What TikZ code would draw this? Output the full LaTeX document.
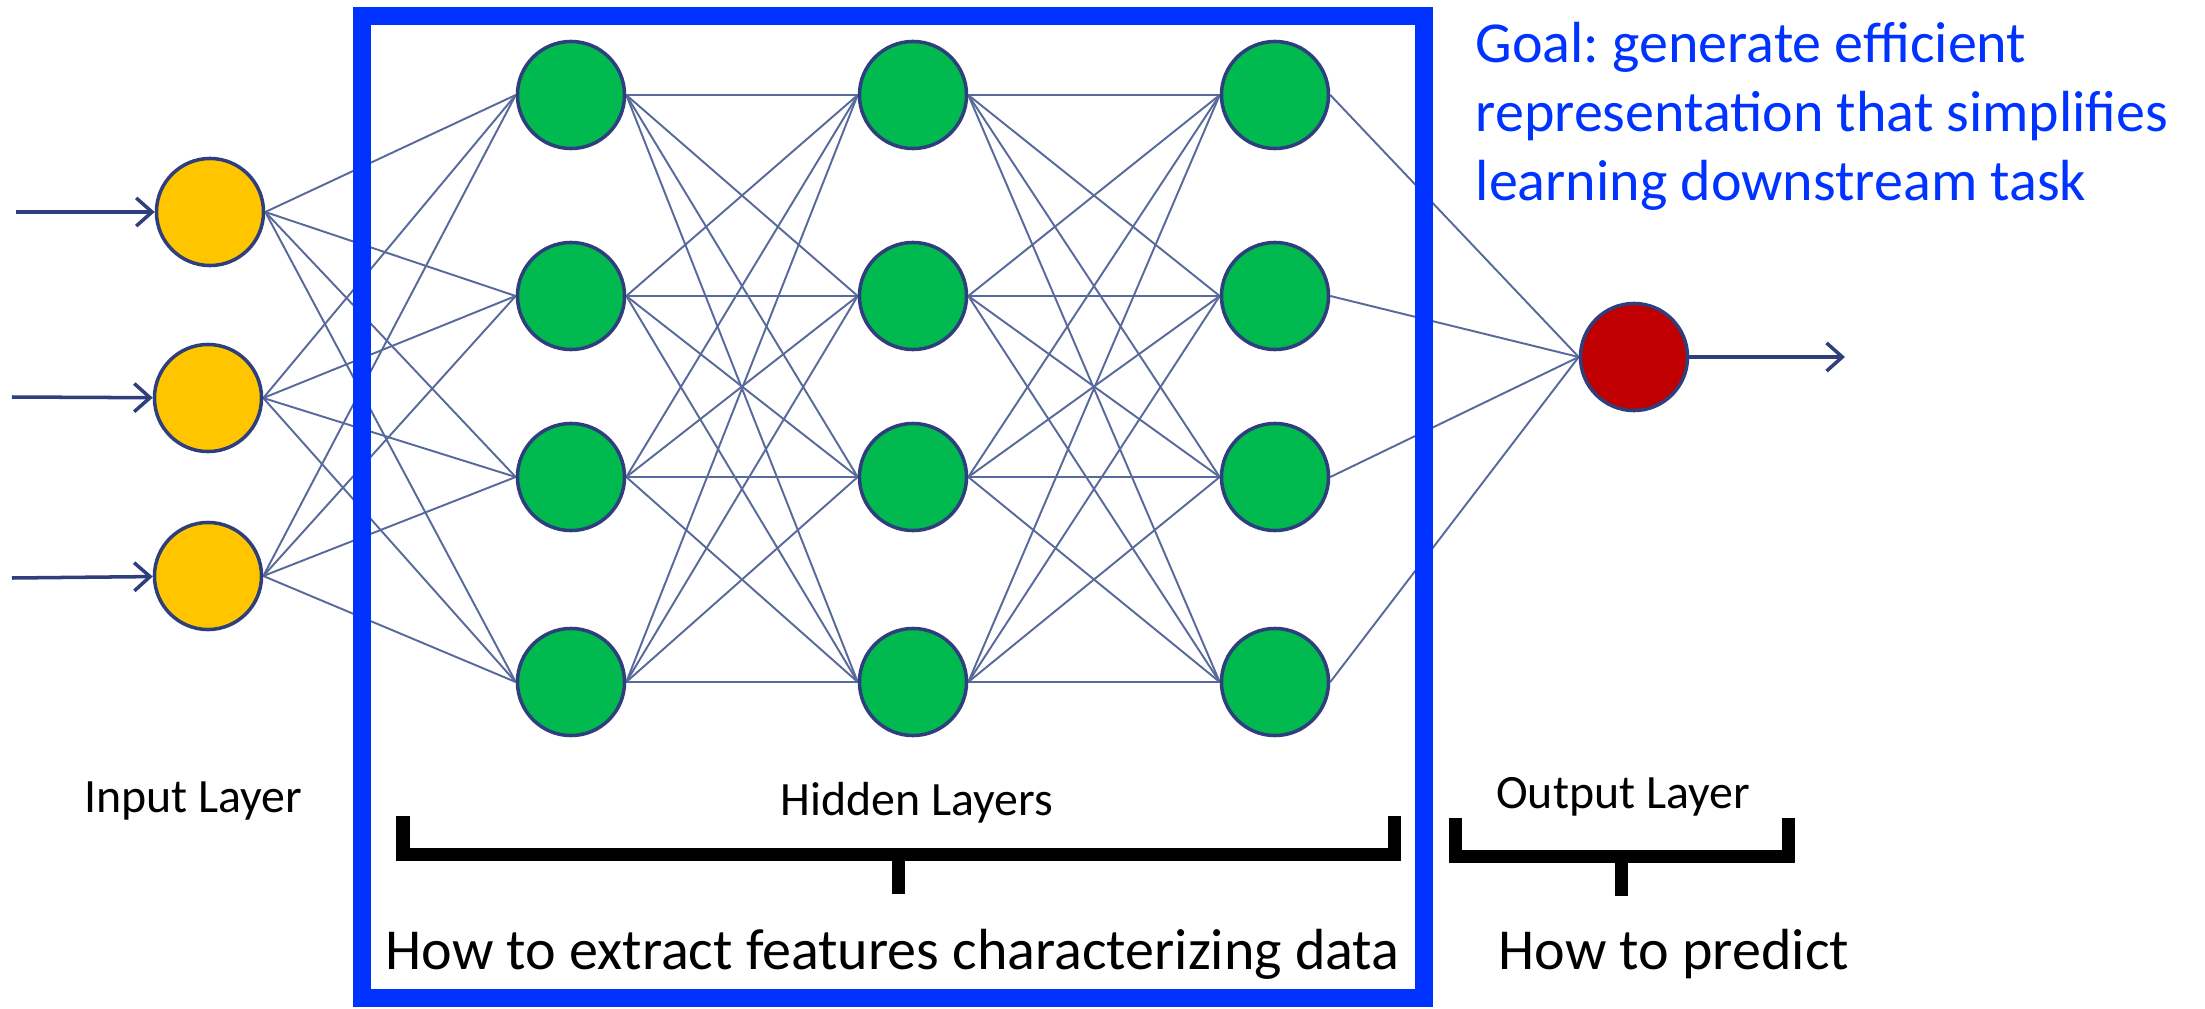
\documentclass[tikz,border=0pt]{standalone}
\usepackage{fontspec}
\setmainfont{Carlito}
\frenchspacing
\usetikzlibrary{arrows.meta,backgrounds}
\definecolor{boxblue}{RGB}{0,51,255}
\definecolor{ngreen}{RGB}{0,186,80}
\definecolor{nyellow}{RGB}{255,198,0}
\definecolor{nred}{RGB}{192,0,0}
\definecolor{nborder}{RGB}{47,62,125}
\definecolor{edgec}{RGB}{88,105,155}
\tikzset{
  neuron/.style={circle, draw=nborder, line width=1pt, minimum size=1.07cm, inner sep=0pt},
  inneuron/.style={neuron, fill=nyellow},
  hidneuron/.style={neuron, fill=ngreen},
  outneuron/.style={neuron, fill=nred},
  wire/.style={draw=edgec, line width=0.55pt},
  arr/.style={draw=nborder, line width=1pt, -{Straight Barb[length=4.5pt,width=8pt,line width=1pt]}},
  brk/.style={draw=black, line width=3.7pt, line join=miter, line cap=butt},
  lbl/.style={font=\fontsize{13.6pt}{16pt}\selectfont, inner sep=0pt, anchor=base},
  captxt/.style={font=\fontsize{16.5pt}{20pt}\selectfont, inner sep=0pt, anchor=base west},
  goaltxt/.style={captxt, text=boxblue}
}
\begin{document}
\begin{tikzpicture}[x=0.01cm, y=-0.01cm]
\useasboundingbox (0,0) rectangle (2205,1009);
% blue box
\draw[boxblue, line width=5.1pt] (362,16) rectangle (1424,998);
% input nodes
\node[inneuron] (i1) at (210,212) {};
\node[inneuron] (i2) at (208,398) {};
\node[inneuron] (i3) at (208,576) {};
% hidden layers
\foreach \x/\l in {571/a, 913/b, 1275/c} {
  \node[hidneuron] (\l1) at (\x,95) {};
  \node[hidneuron] (\l2) at (\x,296) {};
  \node[hidneuron] (\l3) at (\x,477) {};
  \node[hidneuron] (\l4) at (\x,682) {};
}
% output node
\node[outneuron] (o) at (1634,357) {};
% wires
\begin{pgfonlayer}{background}
\foreach \i in {1,2,3} \foreach \j in {1,2,3,4} \draw[wire] (i\i.east) -- (a\j.west);
\foreach \i in {1,2,3,4} \foreach \j in {1,2,3,4} {
  \draw[wire] (a\i.east) -- (b\j.west);
  \draw[wire] (b\i.east) -- (c\j.west);
}
\foreach \i in {1,2,3,4} \draw[wire] (c\i.east) -- (o.west);
\end{pgfonlayer}
% input / output arrows
\coordinate (s1) at (16,212);
\coordinate (s2) at (12,397);
\coordinate (s3) at (12,578);
\coordinate (oe) at (1845,357);
\draw[arr] (s1) -- (i1);
\draw[arr] (s2) -- (i2);
\draw[arr] (s3) -- (i3);
\draw[arr] (o) -- (oe);
% labels
\node[lbl] (lin) at (193,812) {Input Layer};
\node[lbl] (lhid) at (917,815) {Hidden Layers};
\node[lbl] (lout) at (1623,808) {Output Layer};
% brackets
\draw[brk] (403,816) -- (403,854) -- (1394,854) -- (1394,816);
\draw[brk] (898,854) -- (898,894);
\draw[brk] (1455,818) -- (1455,856) -- (1788,856) -- (1788,818);
\draw[brk] (1621,856) -- (1621,896);
% captions
\node[captxt] (c1) at (385,969) {How to extract features characterizing data};
\node[captxt] (c2) at (1498,969) {How to predict};
% goal text
\node[goaltxt] (g1) at (1475,62) {Goal: generate efficient};
\node[goaltxt] (g2) at (1475,131) {representation that simplifies};
\node[goaltxt] (g3) at (1475,200) {learning downstream task};
\end{tikzpicture}
\end{document}
